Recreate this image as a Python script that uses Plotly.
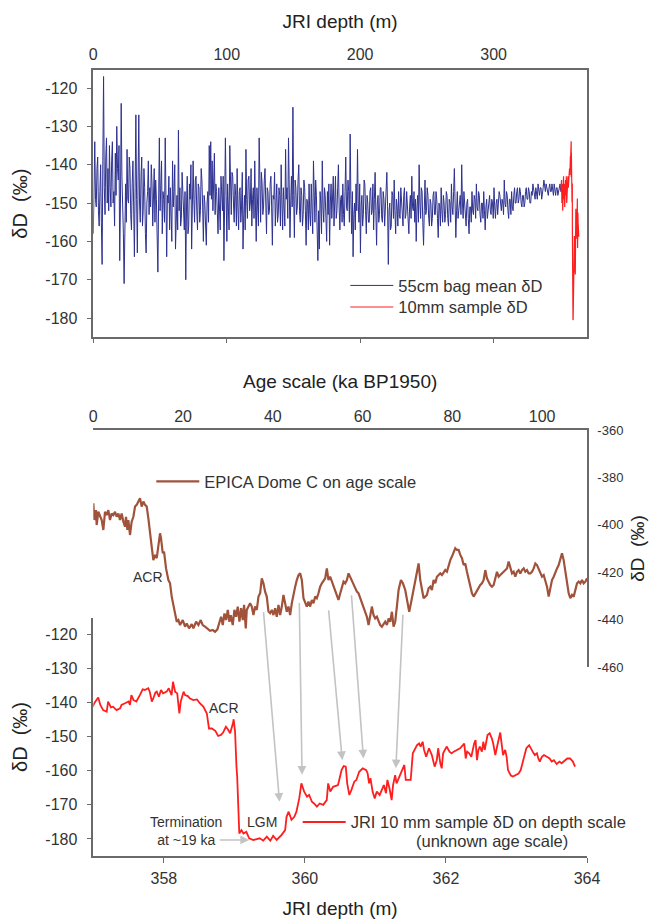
import plotly.graph_objects as go

W, H = 654, 923

# ---------------- data ----------------
# 55 cm bag mean dD, JRI depth 0-351 m
bag_step = 0.55
bag_dD = [
    -158, -145, -134, -149, -151, -141, -138, -152, -156, -147, -140, -155, -166, -139, -117, -146, -153, -138, -133, -150,
    -141, -152, -135, -146, -151, -139, -134, -150, -147, -156, -137, -148, -130, -141, -144, -135, -165, -150, -124, -143,
    -150, -158, -171, -148, -145, -155, -136, -149, -150, -138, -141, -153, -157, -145, -139, -151, -164, -146, -127, -149,
    -163, -144, -127, -150, -155, -143, -138, -156, -152, -141, -146, -158, -163, -150, -147, -139, -153, -146, -151, -140,
    -145, -156, -150, -141, -155, -144, -149, -157, -168, -150, -133, -152, -146, -139, -158, -147, -149, -155, -133, -146,
    -164, -148, -150, -143, -157, -146, -153, -160, -139, -151, -147, -140, -162, -153, -148, -157, -131, -152, -146, -156,
    -154, -142, -148, -155, -157, -147, -170, -151, -143, -158, -156, -145, -149, -140, -162, -151, -139, -149, -155, -144,
    -143, -152, -157, -145, -146, -155, -152, -141, -144, -151, -160, -148, -150, -156, -161, -150, -147, -155, -135, -148,
    -134, -149, -139, -152, -144, -137, -153, -145, -147, -154, -158, -146, -150, -157, -143, -151, -152, -143, -165, -150,
    -133, -148, -160, -145, -150, -157, -135, -148, -153, -142, -143, -150, -155, -145, -148, -156, -141, -151, -157, -147,
    -146, -155, -151, -142, -162, -153, -148, -157, -136, -149, -154, -144, -143, -152, -150, -141, -156, -149, -146, -154,
    -139, -151, -160, -146, -150, -156, -133, -148, -155, -142, -145, -153, -151, -144, -141, -150, -158, -146, -147, -153,
    -152, -145, -143, -151, -161, -148, -149, -142, -156, -150, -145, -155, -153, -146, -148, -156, -140, -150, -157, -146,
    -150, -156, -136, -149, -146, -154, -133, -147, -159, -150, -143, -151, -125, -148, -159, -144, -146, -153, -151, -144,
    -140, -152, -155, -146, -148, -156, -153, -144, -146, -152, -161, -149, -150, -157, -145, -153, -156, -145, -150, -158,
    -139, -150, -155, -144, -148, -157, -165, -152, -162, -147, -150, -158, -139, -151, -155, -146, -148, -154, -160, -147,
    -153, -145, -161, -150, -145, -154, -150, -143, -156, -148, -143, -154, -152, -146, -140, -151, -157, -149, -148, -155,
    -145, -153, -156, -147, -138, -151, -152, -144, -147, -155, -132, -149, -158, -147, -164, -153, -150, -157, -145, -152,
    -136, -150, -155, -145, -163, -151, -148, -156, -153, -144, -145, -152, -158, -148, -150, -155, -155, -147, -146, -153,
    -152, -145, -157, -149, -142, -152, -161, -150, -148, -155, -153, -146, -146, -154, -155, -147, -149, -156, -151, -144,
    -142, -151, -166, -152, -150, -157, -156, -147, -148, -154, -144, -152, -158, -149, -151, -156, -147, -153, -154, -146,
    -149, -155, -156, -148, -146, -154, -153, -147, -150, -156, -158, -151, -148, -154, -143, -151, -152, -147, -155, -149,
    -160, -151, -148, -155, -140, -150, -154, -146, -147, -155, -161, -152, -144, -153, -152, -146, -148, -154, -156, -149,
    -150, -156, -154, -148, -147, -153, -153, -147, -149, -154, -159, -150, -151, -156, -146, -152, -155, -148, -150, -155,
    -153, -147, -148, -154, -156, -149, -150, -155, -145, -151, -153, -147, -141, -150, -159, -152, -147, -154, -152, -148,
    -148, -153, -140, -150, -154, -147, -150, -155, -156, -150, -149, -154, -158, -151, -151, -155, -147, -152, -153, -148,
    -149, -154, -145, -151, -152, -147, -148, -153, -155, -150, -150, -154, -147, -152, -157, -151, -149, -154, -152, -148,
    -148, -152, -153, -149, -150, -154, -146, -151, -154, -150, -149, -153, -151, -147, -148, -152, -152, -149, -150, -153,
    -144, -150, -151, -147, -148, -152, -154, -149, -149, -153, -147, -151, -152, -148, -146, -150, -150, -147, -146, -150,
    -149, -146, -147, -150, -151, -148, -148, -151, -150, -147, -146, -149, -149, -146, -147, -150, -150, -147, -148, -145,
    -146, -148, -149, -146, -147, -149, -145, -148, -148, -146, -146, -149, -148, -146, -144, -147, -147, -145, -146, -148,
    -148, -146, -145, -147, -147, -145, -146, -148, -145, -147, -148, -146, -146, -148, -147, -145, -145, -147, -147,
]
bag_depth = [round(i * bag_step, 3) for i in range(len(bag_dD))]

# 10 mm sample dD on JRI depth
jri_depth = [
    350.6, 350.9, 351.2, 351.5, 351.8, 352.1, 352.4, 352.7, 353.0, 353.3,
    353.6, 353.9, 354.2, 354.5, 354.8, 355.1, 355.4, 355.7, 356.0, 356.3,
    356.6, 356.9,
    356.99, 357.02, 357.07, 357.10, 357.14, 357.19, 357.21, 357.25, 357.28, 357.33,
    357.38, 357.40, 357.45, 357.50, 357.52, 357.54, 357.57, 357.61, 357.66, 357.70,
    357.73, 357.78, 357.80, 357.83, 357.85, 357.88, 357.90, 357.93, 357.96, 357.99,
    358.04, 358.07, 358.11, 358.13, 358.16, 358.19, 358.22, 358.24, 358.28, 358.30,
    358.34, 358.37, 358.42, 358.47, 358.51, 358.56, 358.61, 358.63, 358.64, 358.68,
    358.73, 358.77, 358.81, 358.84, 358.88, 358.91, 358.94, 358.98, 358.99, 359.01,
    359.02, 359.03, 359.04, 359.06, 359.07, 359.10, 359.13, 359.17, 359.21, 359.27,
    359.32, 359.36, 359.41, 359.46, 359.51, 359.55, 359.60, 359.64, 359.67, 359.72,
    359.74, 359.77, 359.79, 359.81, 359.85, 359.88, 359.92, 359.95, 359.99, 360.03,
    360.06, 360.10, 360.13, 360.17, 360.21, 360.26, 360.31, 360.33, 360.36, 360.40,
    360.47, 360.52, 360.55, 360.58, 360.60, 360.63, 360.66, 360.70, 360.73, 360.77,
    360.82, 360.87, 360.89, 360.91, 360.93, 360.96, 360.99, 361.02, 361.06, 361.09,
    361.12, 361.15, 361.17, 361.20, 361.23, 361.25, 361.28, 361.30, 361.33, 361.36,
    361.39, 361.41, 361.43, 361.47, 361.50, 361.53, 361.56, 361.59, 361.62, 361.64,
    361.67, 361.69, 361.72, 361.74, 361.76, 361.80, 361.82, 361.84, 361.87, 361.89,
    361.92, 361.94, 361.96, 361.99, 362.01, 362.05, 362.08, 362.11, 362.15, 362.20,
    362.24, 362.26, 362.28, 362.30, 362.33, 362.36, 362.40, 362.42, 362.44, 362.46,
    362.48, 362.51, 362.53, 362.55, 362.59, 362.62, 362.65, 362.67, 362.70, 362.72,
    362.74, 362.77, 362.79, 362.81, 362.84, 362.86, 362.88, 362.92, 362.95, 362.99,
    363.03, 363.06, 363.09, 363.12, 363.14, 363.18, 363.20, 363.23, 363.26, 363.29,
    363.31, 363.33, 363.36, 363.39, 363.43, 363.47, 363.50, 363.53, 363.57, 363.61,
    363.64, 363.69, 363.72, 363.76, 363.80, 363.83,
]
jri_dD = [
    -147, -144, -150, -145, -152, -146, -143, -149, -145, -151,
    -146, -144, -148, -143, -150, -145, -147, -143, -146, -142,
    -144, -141,
    -141.2, -140.0, -138.5, -140.7, -142.2, -142.7, -139.7, -141.4, -141.2, -142.2,
    -141.7, -140.7, -140.2, -139.7, -140.7, -137.8, -139.3, -139.7, -137.8, -136.1,
    -136.3, -135.8, -136.8, -139.7, -138.8, -137.1, -136.8, -138.3, -136.3, -137.3,
    -136.8, -135.8, -137.8, -133.9, -136.8, -137.3, -143.2, -139.7, -136.8, -137.8,
    -138.1, -138.8, -139.3, -139.1, -140.2, -141.2, -143.2, -145.6, -147.6, -147.6,
    -148.3, -149.8, -149.5, -148.8, -147.1, -147.9, -149.0, -146.1, -144.9, -148.5,
    -155.9, -158.8, -161.7, -173.5, -178.4, -177.4, -178.4, -177.9, -179.8, -180.3,
    -180.1, -179.8, -180.5, -179.3, -180.5, -179.1, -180.3, -179.6, -178.8, -177.4,
    -173.5, -172.0, -173.0, -174.4, -173.5, -172.0, -168.1, -163.7, -166.1, -167.6,
    -167.1, -169.1, -169.6, -170.5, -169.6, -170.0, -168.6, -163.7, -166.1, -164.7,
    -164.2, -159.8, -158.6, -158.8, -163.7, -167.1, -165.6, -163.2, -162.7, -160.3,
    -159.3, -159.8, -160.8, -163.7, -162.2, -166.1, -168.1, -166.1, -167.1, -165.6,
    -164.2, -166.6, -162.7, -165.2, -168.6, -164.2, -161.3, -163.7, -162.2, -160.8,
    -158.8, -158.3, -162.7, -162.7, -162.7, -154.9, -153.9, -152.5, -152.0, -152.9,
    -151.5, -153.9, -155.9, -154.9, -153.4, -155.4, -157.3, -158.8, -156.9, -153.4,
    -157.8, -159.3, -154.9, -153.4, -152.9, -154.4, -154.9, -154.4, -153.9, -153.4,
    -152.5, -152.0, -156.4, -154.4, -154.9, -155.9, -152.0, -151.0, -156.9, -153.9,
    -152.9, -154.4, -151.5, -153.9, -149.5, -149.0, -150.5, -152.0, -155.4, -152.9,
    -151.5, -148.8, -152.0, -155.4, -153.9, -155.9, -159.8, -161.4, -161.7, -161.3,
    -160.8, -159.8, -157.3, -155.4, -153.4, -152.5, -153.4, -154.4, -155.4, -154.9,
    -156.4, -157.3, -155.9, -155.4, -155.9, -156.4, -157.3, -156.9, -158.0, -157.3,
    -157.8, -156.9, -156.4, -156.4, -157.3, -158.8,
]

# EPICA Dome C dD on age scale (ka BP1950)
edc_age = [
    0.01, 0.23, 0.60, 0.75, 1.12, 1.49, 1.87, 2.24, 2.61, 2.98,
    3.35, 3.72, 4.09, 4.47, 4.84, 5.21, 5.58, 5.95, 6.32, 6.70,
    7.07, 7.29, 7.59, 7.81, 8.18, 8.55, 8.93, 9.30, 9.67, 10.04,
    10.41, 10.78, 11.16, 11.53, 11.90, 12.27, 12.64, 13.01, 13.38, 13.76,
    14.13, 14.50, 14.87, 15.09, 15.47, 15.76, 16.21, 16.73, 17.10, 17.47,
    17.84, 18.22, 18.59, 18.96, 19.33, 19.93, 20.45, 20.82, 21.34, 21.93,
    22.30, 22.90, 23.42, 23.94, 24.38, 24.90, 25.42, 26.02, 26.61, 27.13,
    27.65, 28.10, 28.47, 28.84, 29.22, 29.59, 29.96, 30.33, 30.63, 31.07,
    31.44, 31.82, 32.19, 32.56, 32.93, 33.30, 33.60, 33.97, 34.19, 34.57,
    34.94, 35.31, 35.68, 36.05, 36.43, 36.80, 37.17, 37.54, 37.91, 38.28,
    38.65, 39.03, 39.40, 39.77, 40.14, 40.51, 40.88, 41.26, 41.63, 42.00,
    42.37, 42.74, 43.11, 43.49, 43.86, 44.23, 44.60, 44.97, 45.34, 45.72,
    46.09, 46.46, 46.83, 47.20, 47.57, 47.94, 48.32, 48.69, 49.06, 49.43,
    49.80, 50.17, 50.55, 50.92, 51.29, 51.66, 52.03, 52.40, 52.77, 53.14,
    53.52, 53.89, 54.26, 54.63, 55.01, 55.38, 55.75, 56.12, 56.50, 56.87,
    57.24, 57.61, 57.98, 58.35, 58.73, 59.10, 59.47, 59.84, 60.21, 60.58,
    60.96, 61.33, 61.70, 62.07, 62.44, 62.81, 63.19, 63.56, 63.93, 64.30,
    64.67, 65.04, 65.42, 65.79, 66.16, 66.53, 66.90, 67.27, 67.64, 68.02,
    68.54, 68.98, 69.50, 69.87, 70.39, 70.77, 71.21, 71.73, 72.10, 72.48,
    72.85, 73.22, 73.59, 73.96, 74.33, 74.70, 75.08, 75.45, 75.82, 76.19,
    76.56, 76.94, 77.31, 77.68, 78.05, 78.42, 78.79, 79.16, 79.54, 79.91,
    80.28, 80.65, 81.02, 81.39, 81.77, 82.14, 82.51, 82.88, 83.25, 83.62,
    84.00, 84.37, 84.74, 85.11, 85.48, 85.85, 86.22, 86.60, 86.97, 87.34,
    87.71, 88.08, 88.45, 88.83, 89.20, 89.94, 90.31, 90.68, 91.06, 91.43,
    91.80, 92.17, 92.54, 92.91, 93.29, 93.66, 94.03, 94.40, 94.77, 95.14,
    95.51, 95.89, 96.26, 96.63, 97.00, 97.37, 97.74, 98.12, 98.49, 98.86,
    99.23, 99.60, 99.97, 100.35, 100.72, 101.09, 101.46, 101.83, 102.20, 102.58,
    102.95, 103.32, 103.69, 104.06, 104.43, 104.80, 105.18, 105.55, 105.92, 106.29,
    106.66, 107.03, 107.41, 107.78, 108.15, 108.52, 108.89, 109.26, 109.64, 110.01,
]
edc_dD = [
    -390.9, -398.0, -393.8, -400.1, -394.5, -396.6, -398.0, -402.2, -394.5, -395.9,
    -393.8, -398.0, -395.2, -395.9, -394.5, -396.6, -395.2, -398.0, -395.2, -398.7,
    -400.8, -396.6, -402.2, -398.0, -404.3, -398.7, -396.6, -392.3, -391.6, -390.2,
    -388.8, -392.3, -390.2, -391.6, -392.3, -397.3, -402.2, -409.2, -414.9, -412.7,
    -414.1, -409.2, -403.6, -405.7, -412.0, -411.3, -418.4, -423.3, -424.7, -430.3,
    -433.8, -438.1, -440.9, -440.2, -442.3, -440.2, -443.0, -441.6, -443.7, -441.9,
    -443.7, -440.9, -442.3, -440.2, -442.3, -443.0, -443.7, -444.7, -444.4, -445.1,
    -444.1, -440.9, -438.8, -442.3, -437.4, -440.2, -435.9, -440.9, -438.1, -442.3,
    -435.9, -438.8, -434.5, -440.9, -435.2, -440.2, -433.8, -443.7, -435.9, -434.5,
    -433.1, -434.5, -438.1, -434.5, -435.9, -430.3, -428.9, -422.6, -424.7, -428.2,
    -430.3, -436.6, -437.3, -435.9, -438.1, -435.2, -438.8, -433.8, -438.1, -434.5,
    -429.6, -433.1, -436.7, -434.5, -438.1, -433.1, -430.3, -426.2, -423.3, -421.2,
    -420.5, -423.3, -431.0, -433.1, -434.5, -432.4, -434.5, -431.7, -433.1, -430.3,
    -431.0, -428.9, -426.1, -424.7, -423.3, -422.6, -418.4, -423.3, -421.9, -424.0,
    -426.1, -427.5, -430.3, -431.7, -429.0, -426.1, -424.0, -424.7, -423.3, -420.5,
    -421.9, -423.3, -424.7, -426.8, -428.2, -428.9, -431.0, -433.1, -435.2, -437.4,
    -438.8, -442.3, -438.8, -434.5, -438.1, -439.5, -438.8, -440.9, -442.3, -443.0,
    -441.6, -440.9, -442.3, -439.5, -440.9, -436.7, -443.0, -440.9, -434.5, -427.5,
    -423.3, -424.7, -427.5, -431.0, -436.7, -433.1, -428.9, -423.3, -419.8, -416.3,
    -423.3, -428.2, -431.0, -430.3, -429.6, -426.8, -426.1, -427.5, -423.3, -424.7,
    -421.9, -421.2, -420.5, -421.2, -419.8, -419.1, -419.8, -417.0, -414.9, -413.4,
    -412.0, -409.9, -410.6, -410.6, -412.7, -414.1, -417.0, -416.3, -419.8, -423.3,
    -426.8, -428.9, -430.3, -428.9, -428.2, -426.8, -425.4, -424.7, -423.3, -419.1,
    -422.6, -424.0, -425.4, -426.1, -425.4, -419.8, -421.9, -421.2, -420.5, -419.8,
    -419.1, -418.4, -415.5, -418.4, -420.5, -419.8, -421.9, -419.8, -419.1, -420.5,
    -419.1, -418.4, -419.8, -419.1, -420.5, -420.5, -419.8, -418.4, -416.3, -417.0,
    -418.4, -420.5, -421.9, -421.2, -423.3, -426.1, -430.3, -426.1, -423.3, -421.9,
    -419.8, -418.4, -417.0, -414.1, -412.0, -414.9, -419.8, -424.7, -428.9, -431.0,
    -429.6, -430.3, -426.8, -424.7, -424.0, -424.7, -423.3, -424.7, -424.0, -422.6,
]

# tie points: EPICA feature (age, dD) -> JRI feature (depth, dD)
tie_edc_age = [37.9, 45.9, 52.4, 57.5, 69.0]
tie_edc_dD = [-436.2, -432.4, -435.4, -429.1, -437.3]
tie_jri_depth = [359.64, 359.96, 360.53, 360.83, 361.29]
tie_jri_dD = [-169.1, -161.2, -156.9, -156.4, -159.3]

# axis ticks
top_depth_ticks = [0, 100, 200, 300]
dD_ticks = [-180, -170, -160, -150, -140, -130, -120]
dD_ticktext = ["-180", "-170", "-160", "-150", "-140", "-130", "-120"]
age_ticks = [0, 20, 40, 60, 80, 100]
edc_ticks = [-460, -440, -420, -400, -380, -360]
edc_ticktext = ["-460", "-440", "-420", "-400", "-380", "-360"]
bot_depth_ticks = [358, 360, 362, 364]

depth_range_top = [0, 370]
dD_range_top = [-185, -115.3]
age_range = [0, 110]
edc_range = [-460, -360]
depth_range_bot = [357, 364]
dD_range_bot = [-185, -115.2]

# ---------------- layout geometry (pixels) ----------------
X_PX = (93.3, 587.0)
TOP_PX = (70.0, 337.3)
EDC_PX = (430.0, 667.0)
JRI_PX = (618.0, 856.0)
ITEMW = 43          # legend symbol width
TGAP = ITEMW + 10   # symbol-area + gaps before legend text


def xdom(p):
    return [p[0] / W, p[1] / W]


def ydom(p):
    return [1 - p[1] / H, 1 - p[0] / H]


def sx(v, r):
    return X_PX[0] + (v - r[0]) / (r[1] - r[0]) * (X_PX[1] - X_PX[0])


def sy(v, r, p):
    return p[0] + (r[1] - v) / (r[1] - r[0]) * (p[1] - p[0])


FONT = "Liberation Sans, Arial, sans-serif"
AX = "#6a6a6a"
TXT = "#333333"
BLUE = "#2d3190"
RED = "#ff1e1e"
BROWN = "#a0523a"
GREY = "#c3c3c3"

fig = go.Figure()

fig.add_trace(go.Scatter(x=bag_depth, y=bag_dD, mode="lines", name="55cm bag mean δD",
                         line=dict(color=BLUE, width=1.0), xaxis="x", yaxis="y", legend="legend"))
fig.add_trace(go.Scatter(x=jri_depth, y=jri_dD, mode="lines", name="10mm sample δD",
                         line=dict(color=RED, width=1.2), xaxis="x2", yaxis="y", legend="legend4"))
fig.add_trace(go.Scatter(x=edc_age, y=edc_dD, mode="lines", name="EPICA Dome C on age scale",
                         line=dict(color=BROWN, width=2.2), xaxis="x3", yaxis="y3", legend="legend2"))
fig.add_trace(go.Scatter(x=jri_depth, y=jri_dD, mode="lines", name="JRI 10 mm sample δD on depth scale",
                         line=dict(color=RED, width=1.8), xaxis="x4", yaxis="y4", legend="legend3"))

tickfont = dict(family=FONT, size=16, color=TXT)
titlefont = dict(family=FONT, size=19, color="#222")
common = dict(showgrid=False, zeroline=False, showline=True, linecolor=AX, linewidth=1.5,
              tickcolor=AX, tickwidth=1.2, automargin=False, tickfont=tickfont)


def leg(text_x, center_y):
    return dict(x=(text_x - TGAP) / W, y=1 - center_y / H, xanchor="left", yanchor="middle",
                itemwidth=ITEMW, bgcolor="rgba(0,0,0,0)",
                font=dict(family=FONT, size=16.5, color=TXT))


fig.update_layout(
    width=W, height=H,
    margin=dict(l=0, r=0, t=0, b=0),
    paper_bgcolor="white", plot_bgcolor="rgba(0,0,0,0)",
    template="none",
    font=dict(family=FONT, color=TXT),
    showlegend=True,
    xaxis=dict(**common, domain=xdom(X_PX), range=depth_range_top, anchor="y", side="top",
               mirror=True, ticks="", tickvals=top_depth_ticks, ticklabelstandoff=2,
               title=dict(text="JRI depth (m)", font=titlefont, standoff=12)),
    xaxis2=dict(**{k: v for k, v in common.items() if k != "showline"}, showline=False,
                range=depth_range_top, overlaying="x", anchor="y", side="bottom",
                ticks="outside", ticklen=5, tickvals=top_depth_ticks, showticklabels=False),
    yaxis=dict(**common, domain=ydom(TOP_PX), range=dD_range_top, anchor="x", mirror=True,
               ticks="outside", ticklen=5, tickvals=dD_ticks, ticktext=dD_ticktext,
               ticklabelstandoff=6,
               title=dict(text="δD\u00a0\u00a0(‰)", font=dict(family=FONT, size=20, color="#222"), standoff=12)),
    xaxis3=dict(**common, domain=xdom(X_PX), range=age_range, anchor="y3", side="top",
                ticks="", tickvals=age_ticks, ticklabelstandoff=0,
                title=dict(text="Age scale (ka BP1950)", font=titlefont, standoff=14)),
    yaxis3=dict(**{k: v for k, v in common.items() if k != "tickfont"},
                domain=ydom(EDC_PX), range=edc_range, anchor="x3", side="right",
                ticks="", tickvals=edc_ticks, ticktext=edc_ticktext, ticklabelstandoff=6,
                tickfont=dict(family=FONT, size=13, color=TXT),
                title=dict(text="δD\u00a0\u00a0(‰)", font=titlefont, standoff=8)),
    xaxis4=dict(**common, domain=xdom(X_PX), range=depth_range_bot, anchor="y4", side="bottom",
                ticks="outside", ticklen=5, tickvals=bot_depth_ticks, ticklabelstandoff=2,
                title=dict(text="JRI depth (m)", font=titlefont, standoff=16)),
    yaxis4=dict(**common, domain=ydom(JRI_PX), range=dD_range_bot, anchor="x4", side="left",
                ticks="outside", ticklen=5, tickvals=dD_ticks, ticktext=dD_ticktext,
                ticklabelstandoff=6,
                title=dict(text="δD\u00a0\u00a0(‰)", font=dict(family=FONT, size=20, color="#222"), standoff=12)),
    legend=leg(398.3, 285.7),
    legend4=leg(398.3, 307.3),
    legend2=leg(204.3, 481.7),
    legend3=leg(350.7, 822.3),
)

ann = []
# tie-point arrows from EPICA features to JRI features
for a, e, d, j in zip(tie_edc_age, tie_edc_dD, tie_jri_depth, tie_jri_dD):
    tx, ty = sx(a, age_range), sy(e, edc_range, EDC_PX)
    hx, hy = sx(d, depth_range_bot), sy(j, dD_range_bot, JRI_PX)
    ann.append(dict(x=d, y=j, xref="x4", yref="y4", ax=tx - hx, ay=ty - hy,
                    axref="pixel", ayref="pixel", text="", showarrow=True,
                    arrowhead=2, arrowsize=1.1, arrowwidth=1.6, arrowcolor=GREY, standoff=0))
# termination arrow
ann.append(dict(x=359.21, y=-180.3, xref="x4", yref="y4", ax=-31, ay=0, text="",
                showarrow=True, arrowhead=2, arrowsize=1.1, arrowwidth=1.6, arrowcolor=GREY))
small = dict(family=FONT, size=14, color=TXT)
ann.append(dict(x=12.2, y=-422, xref="x3", yref="y3", text="ACR", showarrow=False, font=small))
ann.append(dict(x=358.85, y=-141.6, xref="x4", yref="y4", text="ACR", showarrow=False, font=small))
ann.append(dict(x=359.39, y=-174.9, xref="x4", yref="y4", text="LGM", showarrow=False, font=small))
ann.append(dict(x=358.31, y=-177.7, xref="x4", yref="y4", text="Termination<br>at ~19 ka",
                showarrow=False, font=small))
ann.append(dict(x=361.54, y=-180.7, xref="x4", yref="y4", xanchor="left",
                text="(unknown age scale)", showarrow=False,
                font=dict(family=FONT, size=16.5, color=TXT)))
fig.update_layout(annotations=ann)

fig.write_html("out.html", config={"displayModeBar": False},
               post_script="document.body.style.margin='0px';")
